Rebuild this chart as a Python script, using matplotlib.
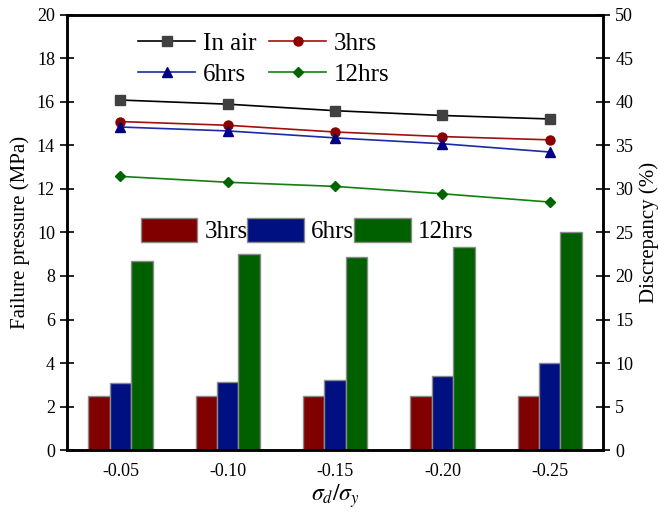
import matplotlib

matplotlib.use("Agg")
import matplotlib.pyplot as plt
import numpy as np

plt.rcParams["font.family"] = ["Liberation Serif", "DejaVu Serif"]
plt.rcParams["mathtext.fontset"] = "stix"

# data
ratios = ["-0.05", "-0.10", "-0.15", "-0.20", "-0.25"]
p_air = [16.09, 15.90, 15.60, 15.38, 15.22]
p_3h = [15.10, 14.93, 14.62, 14.41, 14.26]
p_6h = [14.85, 14.67, 14.35, 14.08, 13.70]
p_12h = [12.58, 12.31, 12.12, 11.78, 11.40]

d_3h = [6.2, 6.2, 6.2, 6.25, 6.25]
d_6h = [7.7, 7.85, 8.1, 8.45, 10.05]
d_12h = [21.7, 22.5, 22.15, 23.35, 25.1]

x = np.arange(len(ratios))

fig = plt.figure(figsize=(6.58, 5.15), dpi=100)
ax = fig.add_axes([0.1014, 0.1262, 0.8156, 0.8447])
ax2 = ax.twinx()

# bars on the discrepancy axis
w = 0.2
bar_kw = dict(width=w, edgecolor="#8a8a8a", linewidth=1.0)
b1 = ax2.bar(x - w, d_3h, color="#800000", label="3hrs", **bar_kw)
b2 = ax2.bar(x, d_6h, color="#001080", label="6hrs", **bar_kw)
b3 = ax2.bar(x + w, d_12h, color="#006000", label="12hrs", **bar_kw)

# lines on the pressure axis
ax.set_zorder(ax2.get_zorder() + 1)
ax.patch.set_visible(False)
l1, = ax.plot(x, p_air, color="black", lw=1.2, marker="s", ms=6.5,
              mfc="#404040", mec="#404040", label="In air")
l2, = ax.plot(x, p_3h, color="#a01010", lw=1.2, marker="o", ms=6.5,
              mfc="#8b0000", mec="#8b0000", label="3hrs")
l3, = ax.plot(x, p_6h, color="#1a2aa8", lw=1.2, marker="^", ms=7,
              mfc="#000080", mec="#000080", label="6hrs")
l4, = ax.plot(x, p_12h, color="#108010", lw=1.2, marker="D", ms=5.5,
              mfc="#006400", mec="#006400", label="12hrs")

ax.set_xlim(-0.5, 4.5)
ax.set_ylim(0, 20)
ax2.set_ylim(0, 50)
ax.set_yticks(np.arange(0, 21, 2))
ax2.set_yticks(np.arange(0, 51, 5))
ax.set_xticks(x)
ax.set_xticklabels(ratios)

ax.tick_params(axis="x", length=0, labelsize=13, pad=9)
ax.tick_params(axis="y", direction="inout", length=10, width=1.2, labelsize=13)
ax2.tick_params(axis="y", direction="inout", length=10, width=1.2, labelsize=13)
for a in (ax, ax2):
    for s in a.spines.values():
        s.set_linewidth(1.8)

ax.set_ylabel("Failure pressure (MPa)", fontsize=15, labelpad=5)
ax2.set_ylabel("Discrepancy (%)", fontsize=15, labelpad=4)
ax.set_xlabel(r"$\sigma_d/\sigma_y$", fontsize=17, labelpad=2)

# row-wise order: In air, 3hrs / 6hrs, 12hrs
leg1 = ax.legend(handles=[l1, l3, l2, l4], ncol=2, frameon=False, fontsize=18,
                 loc="upper left", bbox_to_anchor=(0.1, 1.0),
                 handlelength=2.3, handletextpad=0.3, columnspacing=0.5,
                 labelspacing=0.35, borderpad=0.2)
ax.add_artist(leg1)
ax.legend(handles=[b1, b2, b3], ncol=3, frameon=False, fontsize=18,
          loc="center left", bbox_to_anchor=(0.105, 0.505),
          handlelength=2.25, handleheight=1.1, handletextpad=0.3,
          columnspacing=0.0, borderpad=0.2)

fig.savefig("out.png", dpi=100)
